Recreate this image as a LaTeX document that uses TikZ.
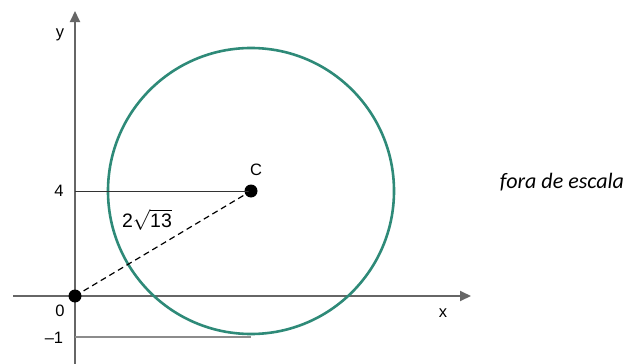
\documentclass[tikz,border=0pt]{standalone}
\usepackage{fontspec}
\setmainfont{Liberation Sans}
\newfontfamily\carl{Carlito}
\usetikzlibrary{arrows.meta}
\definecolor{axisgray}{HTML}{666666}
\definecolor{circteal}{HTML}{2E8A78}
\begin{document}
\begin{tikzpicture}[x=1pt,y=-1pt,
  axisline/.style={draw=axisgray,line width=2pt,color=axisgray},
  dotpt/.style={circle,fill=black,inner sep=0pt,minimum size=13pt},
  lbl/.style={font=\fontsize{16.5}{16.5}\selectfont,inner sep=0pt}]
\useasboundingbox (0,0) rectangle (641,364);
\coordinate (xs) at (13,296);
\coordinate (xe) at (471,296);
\coordinate (ys) at (75,364);
\coordinate (ye) at (75,11);
\draw[axisline,-{Triangle[length=11pt,width=10pt]}] (xs) -- (xe);
\draw[axisline,-{Triangle[length=11pt,width=10pt]}] (ys) -- (ye);
\draw[circteal,line width=2.6pt] (251,191) circle (143);
\node[dotpt] (O) at (75,296) {};
\node[dotpt] (C) at (251,191) {};
\coordinate (y4) at (75,191);
\coordinate (ym1) at (75,337);
\coordinate (cm1) at (251,337);
\draw[black!80,line width=1pt] (y4) -- (C.center);
\draw[black!45,line width=1.3pt] (ym1) -- (cm1);
\draw[black,line width=1.2pt,dash pattern=on 6pt off 4pt] (O.center) -- (C.center);
\node[lbl] (l4) at (59,191) {4};
\node[lbl] (l0) at (60,311) {0};
\node[lbl] (lm1) at (54,338) {–1};
\node[lbl] (ly) at (60,35) {y};
\node[lbl] (lx) at (443,313) {x};
\node[lbl] (lC) at (256,170) {C};
\node[lbl,font=\fontsize{19.5}{19.5}\selectfont] (lr) at (147,220) {2$\sqrt{\mbox{13}}$};
\node[inner sep=0pt,font=\carl\itshape\fontsize{22}{22}\selectfont] (fe) at (562,182) {fora de escala};
\end{tikzpicture}
\end{document}
